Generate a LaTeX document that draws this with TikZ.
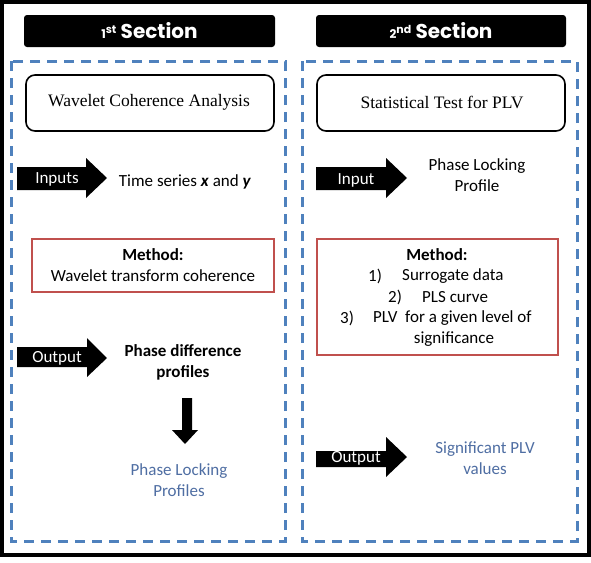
\documentclass[tikz,border=0pt]{standalone}
\usepackage{fontspec}
\setmainfont{Carlito}
\newfontfamily\serifttl{Liberation Serif}
\newfontfamily\headfont{Poppins}
\definecolor{dashblue}{HTML}{4F81BD}
\definecolor{boxred}{HTML}{C0504D}
\definecolor{txtblue}{HTML}{4F6EA3}
\tikzset{
  frame/.style={draw=black, line width=4pt},
  headbar/.style={fill=black, rounded corners=3pt},
  headtxt/.style={text=white, font=\headfont\bfseries\fontsize{20}{20}\selectfont, inner sep=0pt},
  section/.style={draw=dashblue, line width=3pt, dash pattern=on 10pt off 7pt},
  titlebox/.style={draw=black, line width=1.6pt, rounded corners=9pt, fill=white},
  titletxt/.style={font=\serifttl\fontsize{17.5}{17.5}\selectfont, inner sep=0pt},
  methodbox/.style={draw=boxred, line width=1.6pt},
  body/.style={font=\fontsize{17}{21}\selectfont, inner sep=0pt, align=center},
  bodyb/.style={font=\bfseries\fontsize{17}{21}\selectfont, inner sep=0pt, align=center},
  bluetxt/.style={body, text=txtblue},
  arrowtxt/.style={text=white, font=\fontsize{17}{17}\selectfont, inner sep=0pt},
  bigarrow/.style={fill=black},
}
\newcommand{\ordsup}[2]{{\fontsize{12}{12}\selectfont #1}\raisebox{5pt}{\fontsize{11}{11}\selectfont #2}}
\begin{document}
\begin{tikzpicture}[x=1pt,y=-1pt]
\useasboundingbox (0,0) rectangle (591,562);
\fill[white] (0,0) rectangle (591,562);
% outer frame
\draw[frame] (2,2) rectangle (589,555);
% headers
\node[headbar, minimum width=251pt, minimum height=32pt, inner sep=0pt] (h1) at (149.5,31) {};
\node[headbar, minimum width=250pt, minimum height=32pt, inner sep=0pt] (h2) at (441,31) {};
\node[headtxt] (h1t) at (h1.center) {\ordsup{1}{st} Section};
\node[headtxt] (h2t) at (h2.center) {\ordsup{2}{nd} Section};
% dashed sections
\draw[section] (11,61) rectangle (285,541);
\draw[section] (302,61) rectangle (577,541);
% title boxes
\node[titlebox, minimum width=248pt, minimum height=56pt, inner sep=0pt] (t1) at (150,103) {};
\node[titletxt] (t1t) at (149,102) {Wavelet Coherence Analysis};
\node[titlebox, minimum width=248pt, minimum height=56pt, inner sep=0pt] (t2) at (441,103) {};
\node[titletxt] (t2t) at (442,102) {Statistical Test for PLV};
% ---- left section
\fill[bigarrow] (17,167) -- (86,167) -- (86,158) -- (107,178) -- (86,198) -- (86,190) -- (17,190) -- cycle;
\node[arrowtxt] (in1) at (57,179) {Inputs};
\node[body] (ts) at (185,182) {Time series \textbf{\textit{x}} and \textbf{\textit{y}}};
\node[methodbox, minimum width=242pt, minimum height=53pt, inner sep=0pt] (m1) at (153,265.5) {};
\node[bodyb] (m1a) at (153,255) {Method:};
\node[body] (m1b) at (153,276) {Wavelet transform coherence};
\fill[bigarrow] (17,347) -- (87,347) -- (87,338) -- (107,358) -- (87,377) -- (87,367) -- (17,367) -- cycle;
\node[arrowtxt] (out1) at (57,358) {Output};
\node[bodyb] (pd) at (183,362) {Phase difference\\profiles};
\fill[bigarrow] (182,398) -- (192,398) -- (192,430) -- (198,430) -- (185,444) -- (172,430) -- (182,430) -- cycle;
\node[bluetxt] (plp) at (179,480) {Phase Locking\\Profiles};
% ---- right section
\fill[bigarrow] (316,167) -- (386,167) -- (386,158) -- (407,178) -- (386,198) -- (386,190) -- (316,190) -- cycle;
\node[arrowtxt] (in2) at (356,180) {Input};
\node[body] (plp2) at (477,175.5) {Phase Locking\\Profile};
\node[methodbox, minimum width=241pt, minimum height=116pt, inner sep=0pt] (m2) at (437.5,297) {};
\node[bodyb] (m2a) at (437,255) {Method:};
\node[body, anchor=west] (n1) at (368,276) {1)};
\node[body, anchor=west] (s1) at (402,276) {Surrogate data};
\node[body, anchor=west] (n2) at (388,297) {2)};
\node[body, anchor=west] (s2) at (422,297) {PLS curve};
\node[body, anchor=west] (n3) at (340,318) {3)};
\node[body, anchor=west] (s3) at (373,318) {PLV\ \ for a given level of};
\node[body] (s4) at (454,339) {significance};
\fill[bigarrow] (316,451) -- (386,451) -- (386,437) -- (407,457) -- (386,477) -- (386,467) -- (316,467) -- cycle;
\node[arrowtxt] (out2) at (356,458) {Output};
\node[bluetxt] (spv) at (485,458) {Significant PLV\\values};
\end{tikzpicture}
\end{document}
